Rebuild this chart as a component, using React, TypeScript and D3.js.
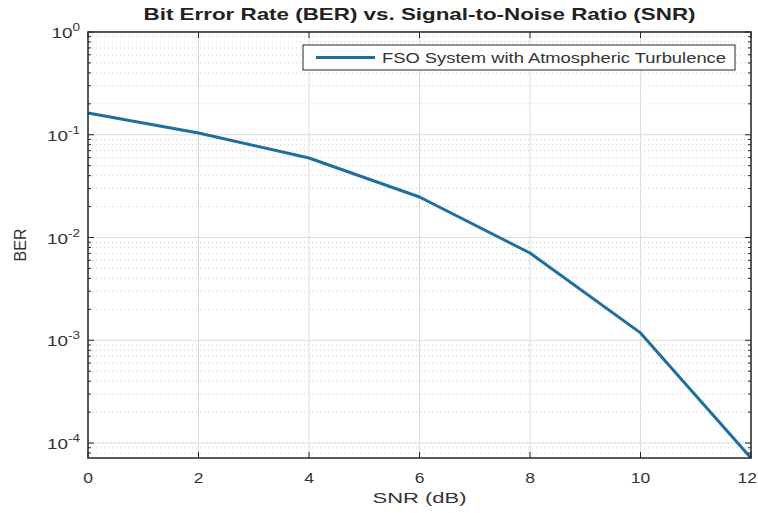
import React from 'react';
import * as d3 from 'd3';

// SNR in dB and the BER
const snrValues = [0, 2, 4, 6, 8, 10, 12];
const berValues = [0.163, 0.104, 0.0594, 0.0248, 0.00707, 0.00118, 0.0000715];
const xTickValues = [0, 2, 4, 6, 8, 10, 12];
const yDecades = [0, -1, -2, -3, -4];
const seriesName = 'FSO System with Atmospheric Turbulence';

const width = 758;
const height = 513;
const margin = {top: 32, right: 7, bottom: 55, left: 88};

function App() {
    const x = d3.scaleLinear()
        .domain([0, 12])
        .range([margin.left, width - margin.right]);

    const y = d3.scaleLog()
        .domain([d3.min(berValues) as number, 1])
        .range([height - margin.bottom, margin.top]);

    const line = d3.line<number>()
        .x((_, i) => x(snrValues[i]))
        .y((d) => y(d));

    // minor y lines: 2..9 x each decade, inside the domain
    const minors: number[] = [];
    [-5, -4, -3, -2, -1].forEach((e) => {
        for (let m = 2; m <= 9; m++) {
            const v = m * Math.pow(10, e);
            if (v > y.domain()[0] && v < 1) minors.push(v);
        }
    });

    const x0 = margin.left;
    const x1 = width - margin.right;
    const y0 = height - margin.bottom;
    const y1 = margin.top;
    const font = 'Liberation Sans, Arial, Helvetica, sans-serif';
    const txt = '#333333';
    // the picture is a bit stretched sideways, so text is widened too
    const sx = 1.25;

    return (
        <svg width={width} height={height} style={{position: 'absolute', left: 0, top: 0}}
             fontFamily={font}>
            <rect x={0} y={0} width={width} height={height} fill="#ffffff"/>

            {/* minor grid */}
            {minors.map((v) => (
                <line key={'mg' + v} x1={x0} x2={x1} y1={y(v)} y2={y(v)}
                      stroke="#d0d0d0" strokeWidth={1} strokeDasharray="1,3"/>
            ))}
            {/* major grid */}
            {yDecades.map((e) => (
                <line key={'yg' + e} x1={x0} x2={x1} y1={y(Math.pow(10, e))} y2={y(Math.pow(10, e))}
                      stroke="#dcdcdc" strokeWidth={1}/>
            ))}
            {xTickValues.map((t) => (
                <line key={'xg' + t} x1={x(t)} x2={x(t)} y1={y0} y2={y1}
                      stroke="#dcdcdc" strokeWidth={1}/>
            ))}

            {/* data */}
            <path d={line(berValues) || ''} fill="none" stroke="#1d6f9f" strokeWidth={3}
                  strokeLinejoin="round"/>

            {/* axes box */}
            <rect x={x0} y={y1} width={x1 - x0} height={y0 - y1} fill="none" stroke="#262626" strokeWidth={1.5}/>

            {/* ticks */}
            {xTickValues.map((t, i) => {
                // last label would run off the right edge, so pin it inside
                const last = i === xTickValues.length - 1;
                const tx = last ? width - 1 : x(t);
                return (
                    <g key={'xt' + t}>
                        <line x1={x(t)} x2={x(t)} y1={y0} y2={y0 - 6} stroke="#262626"/>
                        <line x1={x(t)} x2={x(t)} y1={y1} y2={y1 + 6} stroke="#262626"/>
                        <text transform={`translate(${tx}, ${y0 + 25}) scale(${sx}, 1)`}
                              textAnchor={last ? 'end' : 'middle'} fontSize={14} fill={txt}>{t}</text>
                    </g>
                );
            })}
            {yDecades.map((e) => (
                <g key={'yt' + e}>
                    <line x1={x0} x2={x0 + 6} y1={y(Math.pow(10, e))} y2={y(Math.pow(10, e))} stroke="#262626"/>
                    <line x1={x1} x2={x1 - 6} y1={y(Math.pow(10, e))} y2={y(Math.pow(10, e))} stroke="#262626"/>
                    <text transform={`translate(80, ${y(Math.pow(10, e)) + 6}) scale(${sx + 0.1}, 1)`}
                          textAnchor="end" fontSize={14} fill={txt}>
                        10<tspan fontSize={10} dy={-7}>{e}</tspan>
                    </text>
                </g>
            ))}
            {minors.map((v) => (
                <g key={'mt' + v}>
                    <line x1={x0} x2={x0 + 3} y1={y(v)} y2={y(v)} stroke="#262626"/>
                    <line x1={x1} x2={x1 - 3} y1={y(v)} y2={y(v)} stroke="#262626"/>
                </g>
            ))}

            {/* legend */}
            <rect x={303} y={45} width={432} height={25} fill="#ffffff" stroke="#262626" strokeWidth={1}/>
            <line x1={316} x2={375} y1={57.5} y2={57.5} stroke="#1d6f9f" strokeWidth={3}/>
            <text x={382} y={63} fontSize={14} fill={txt} textLength={344}
                  lengthAdjust="spacingAndGlyphs">{seriesName}</text>

            {/* titles */}
            <text x={(x0 + x1) / 2} y={20} textAnchor="middle" fontSize={16.5} fontWeight="bold" fill="#222"
                  textLength={552} lengthAdjust="spacingAndGlyphs">
                Bit Error Rate (BER) vs. Signal-to-Noise Ratio (SNR)
            </text>
            <text x={(x0 + x1) / 2} y={503} textAnchor="middle" fontSize={15.5} fill={txt}
                  textLength={94} lengthAdjust="spacingAndGlyphs">SNR (dB)</text>
            <text transform={`translate(26, ${(y0 + y1) / 2}) rotate(-90)`} textAnchor="middle"
                  fontSize={16} fill={txt}>BER</text>
        </svg>
    );
}

export default App;
